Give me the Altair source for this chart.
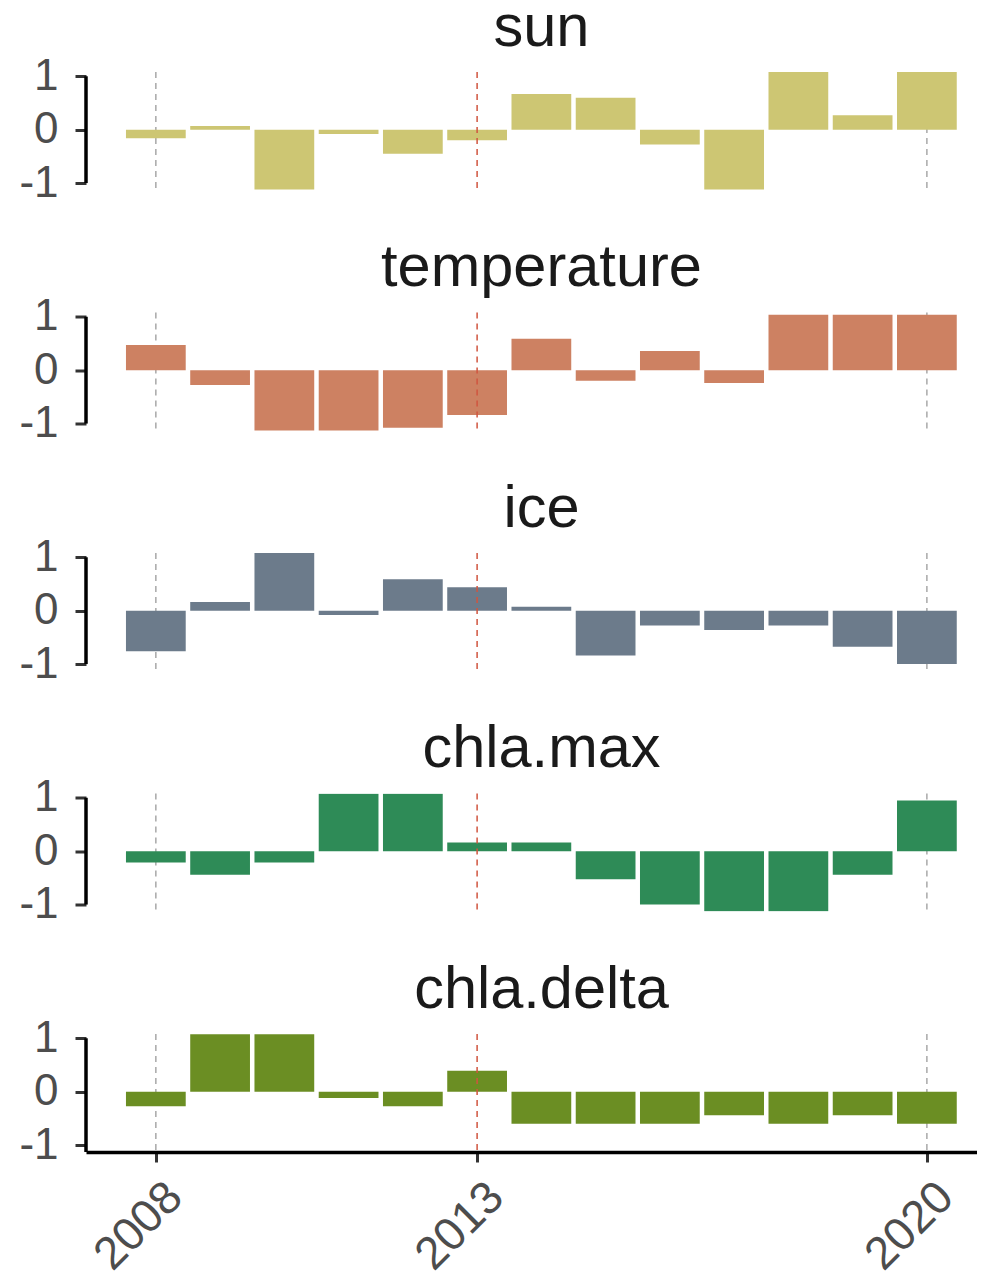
import altair as alt
import pandas as pd

years = list(range(2008, 2021))

sun = [-0.16, 0.07, -1.12, -0.08, -0.45, -0.20, 0.67, 0.60, -0.28, -1.12, 1.08, 0.27, 1.08]
temperature = [0.47, -0.28, -1.15, -1.15, -1.08, -0.84, 0.59, -0.20, 0.36, -0.24, 1.04, 1.04, 1.04]
ice = [-0.76, 0.16, 1.08, -0.08, 0.59, 0.44, 0.075, -0.84, -0.28, -0.36, -0.28, -0.675, -1.0]
chla_max = [-0.21, -0.44, -0.21, 1.075, 1.075, 0.16, 0.16, -0.525, -1.0, -1.125, -1.125, -0.44, 0.95]
chla_delta = [-0.275, 1.075, 1.075, -0.12, -0.275, 0.39, -0.60, -0.60, -0.60, -0.44, -0.60, -0.44, -0.60]

panel_names = ["sun", "temperature", "ice", "chla.max", "chla.delta"]
panel_values = [sun, temperature, ice, chla_max, chla_delta]
panel_colors = ["#CDC673", "#CD8162", "#6C7B8B", "#2E8B57", "#6B8E23"]

grey_years = [2008, 2020]
red_years = [2013]
y_ticks = [-1, 0, 1]
x_ticks = [2008, 2013, 2020]

XDOM = [2006.913, 2020.78]
YDOM = [-1.13, 1.08]
FONT = "Liberation Sans"


def make_panel(name, values, color, last):
    df = pd.DataFrame({"year": years, "value": values})
    xscale = alt.Scale(domain=XDOM, nice=False, zero=False)
    yscale = alt.Scale(domain=YDOM, nice=False, zero=False)
    if last:
        xaxis = alt.Axis(values=x_ticks, labelExpr="'' + datum.value", title=None,
                         labelAngle=-45, labelAlign="right", labelBaseline="top",
                         labelFontSize=46, labelFont=FONT, labelColor="#4D4D4D",
                         domain=True, domainColor="black", domainWidth=3.5,
                         tickColor="#333333", tickWidth=3, tickSize=10,
                         labelPadding=12, labelOffset=3, grid=False)
    else:
        xaxis = None
    yaxis = alt.Axis(values=y_ticks, labelExpr="'' + datum.value", title=None,
                     domain=False, grid=False, labelFontSize=44, labelFont=FONT,
                     labelColor="#4D4D4D", tickColor="#333333", tickWidth=3,
                     tickSize=11, labelPadding=17)

    grey = alt.Chart(pd.DataFrame({"year": grey_years})).mark_rule(
        color="#A8A8A8", strokeDash=[6, 5], strokeWidth=1.5
    ).encode(x=alt.X("year:Q", scale=xscale, axis=xaxis))

    bars = alt.Chart(df).transform_calculate(
        x0="datum.year - 0.465", x1="datum.year + 0.465"
    ).mark_rect(color=color, clip=True).encode(
        x=alt.X("x0:Q", scale=xscale, axis=xaxis),
        x2="x1:Q",
        y=alt.Y("value:Q", scale=yscale, axis=yaxis),
        y2=alt.datum(0),
    )

    red = alt.Chart(pd.DataFrame({"year": red_years})).mark_rule(
        color="#D0553F", strokeDash=[6, 5], strokeWidth=1.5
    ).encode(x=alt.X("year:Q", scale=xscale, axis=xaxis))

    cap = alt.Chart(pd.DataFrame({"k": [0]})).mark_rule(
        color="black", strokeWidth=3.5
    ).encode(
        x=alt.value(0),
        y=alt.datum(y_ticks[-1]),
        y2=alt.datum(YDOM[0] if last else y_ticks[0]),
    )

    return alt.layer(grey, bars, red, cap).properties(
        width=891, height=118,
        title=alt.TitleParams(name, fontSize=59.5, font=FONT, color="#1A1A1A",
                              fontWeight="normal", anchor="middle",
                              baseline="alphabetic", frame="group", offset=-51, dx=10),
    )


panels = [make_panel(n, v, c, i == len(panel_names) - 1)
          for i, (n, v, c) in enumerate(zip(panel_names, panel_values, panel_colors))]

chart = alt.vconcat(*panels, spacing=31.5).properties(
    padding={"left": 10, "top": -11, "right": 0, "bottom": 0}
).configure(background="white").configure_view(stroke=None)

chart.save("out.html", embed_options={"renderer": "svg", "actions": False})
